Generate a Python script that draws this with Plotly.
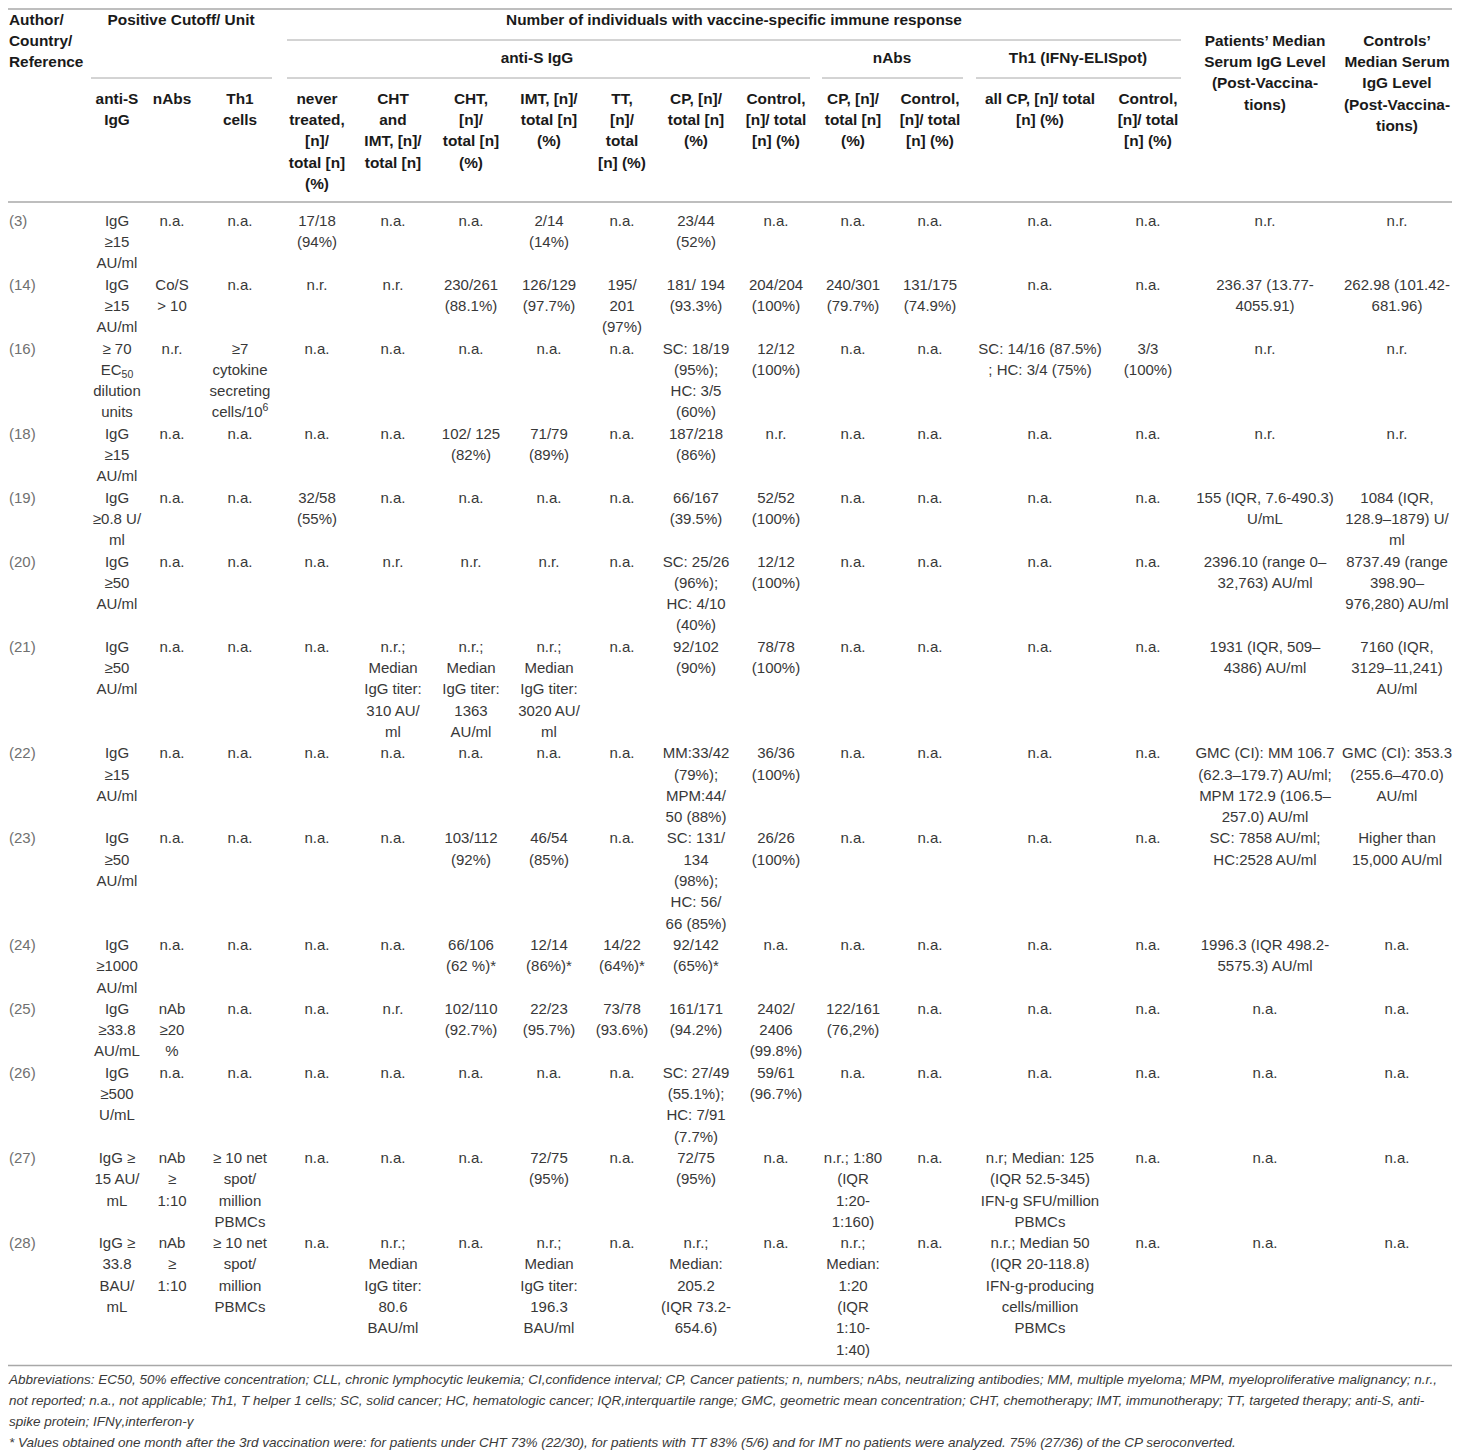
import plotly.graph_objects as go

# ---- data (one entry per study row, line breaks as in the printed table) ----
REFS = ["(3)", "(14)", "(16)", "(18)", "(19)", "(20)", "(21)", "(22)", "(23)",
        "(24)", "(25)", "(26)", "(27)", "(28)"]

CUTOFF_IGG = [
    "IgG<br>≥15<br>AU/ml", "IgG<br>≥15<br>AU/ml",
    "≥ 70<br>EC<sub>50</sub><br>dilution<br>units", "IgG<br>≥15<br>AU/ml",
    "IgG<br>≥0.8 U/<br>ml", "IgG<br>≥50<br>AU/ml", "IgG<br>≥50<br>AU/ml",
    "IgG<br>≥15<br>AU/ml", "IgG<br>≥50<br>AU/ml", "IgG<br>≥1000<br>AU/ml",
    "IgG<br>≥33.8<br>AU/mL", "IgG<br>≥500<br>U/mL", "IgG ≥<br>15 AU/<br>mL",
    "IgG ≥<br>33.8<br>BAU/<br>mL"]
CUTOFF_NABS = ["n.a.", "Co/S<br>> 10", "n.r.", "n.a.", "n.a.", "n.a.", "n.a.", "n.a.",
               "n.a.", "n.a.", "nAb<br>≥20<br>%", "n.a.", "nAb<br>≥<br>1:10", "nAb<br>≥<br>1:10"]
CUTOFF_TH1 = ["n.a.", "n.a.", "≥7<br>cytokine<br>secreting<br>cells/10<sup>6</sup>", "n.a.",
              "n.a.", "n.a.", "n.a.", "n.a.", "n.a.", "n.a.", "n.a.", "n.a.",
              "≥ 10 net<br>spot/<br>million<br>PBMCs", "≥ 10 net<br>spot/<br>million<br>PBMCs"]

NEVER_TREATED = ["17/18<br>(94%)", "n.r.", "n.a.", "n.a.", "32/58<br>(55%)", "n.a.", "n.a.",
                 "n.a.", "n.a.", "n.a.", "n.a.", "n.a.", "n.a.", "n.a."]
CHT_IMT = ["n.a.", "n.r.", "n.a.", "n.a.", "n.a.", "n.r.",
           "n.r.;<br>Median<br>IgG titer:<br>310 AU/<br>ml", "n.a.", "n.a.", "n.a.", "n.r.",
           "n.a.", "n.a.", "n.r.;<br>Median<br>IgG titer:<br>80.6<br>BAU/ml"]
CHT = ["n.a.", "230/261<br>(88.1%)", "n.a.", "102/ 125<br>(82%)", "n.a.", "n.r.",
       "n.r.;<br>Median<br>IgG titer:<br>1363<br>AU/ml", "n.a.", "103/112<br>(92%)",
       "66/106<br>(62 %)*", "102/110<br>(92.7%)", "n.a.", "n.a.", "n.a."]
IMT = ["2/14<br>(14%)", "126/129<br>(97.7%)", "n.a.", "71/79<br>(89%)", "n.a.", "n.r.",
       "n.r.;<br>Median<br>IgG titer:<br>3020 AU/<br>ml", "n.a.", "46/54<br>(85%)",
       "12/14<br>(86%)*", "22/23<br>(95.7%)", "n.a.", "72/75<br>(95%)",
       "n.r.;<br>Median<br>IgG titer:<br>196.3<br>BAU/ml"]
TT = ["n.a.", "195/<br>201<br>(97%)", "n.a.", "n.a.", "n.a.", "n.a.", "n.a.", "n.a.", "n.a.",
      "14/22<br>(64%)*", "73/78<br>(93.6%)", "n.a.", "n.a.", "n.a."]
CP = ["23/44<br>(52%)", "181/ 194<br>(93.3%)", "SC: 18/19<br>(95%);<br>HC: 3/5<br>(60%)",
      "187/218<br>(86%)", "66/167<br>(39.5%)", "SC: 25/26<br>(96%);<br>HC: 4/10<br>(40%)",
      "92/102<br>(90%)", "MM:33/42<br>(79%);<br>MPM:44/<br>50 (88%)",
      "SC: 131/<br>134<br>(98%);<br>HC: 56/<br>66 (85%)", "92/142<br>(65%)*",
      "161/171<br>(94.2%)", "SC: 27/49<br>(55.1%);<br>HC: 7/91<br>(7.7%)", "72/75<br>(95%)",
      "n.r.;<br>Median:<br>205.2<br>(IQR 73.2-<br>654.6)"]
CONTROL_IGG = ["n.a.", "204/204<br>(100%)", "12/12<br>(100%)", "n.r.", "52/52<br>(100%)",
               "12/12<br>(100%)", "78/78<br>(100%)", "36/36<br>(100%)", "26/26<br>(100%)",
               "n.a.", "2402/<br>2406<br>(99.8%)", "59/61<br>(96.7%)", "n.a.", "n.a."]
CP_NABS = ["n.a.", "240/301<br>(79.7%)", "n.a.", "n.a.", "n.a.", "n.a.", "n.a.", "n.a.",
           "n.a.", "n.a.", "122/161<br>(76,2%)", "n.a.",
           "n.r.; 1:80<br>(IQR<br>1:20-<br>1:160)",
           "n.r.;<br>Median:<br>1:20<br>(IQR<br>1:10-<br>1:40)"]
CONTROL_NABS = ["n.a.", "131/175<br>(74.9%)", "n.a.", "n.a.", "n.a.", "n.a.", "n.a.", "n.a.",
                "n.a.", "n.a.", "n.a.", "n.a.", "n.a.", "n.a."]
TH1_CP = ["n.a.", "n.a.", "SC: 14/16 (87.5%)<br>; HC: 3/4 (75%)", "n.a.", "n.a.", "n.a.",
          "n.a.", "n.a.", "n.a.", "n.a.", "n.a.", "n.a.",
          "n.r; Median: 125<br>(IQR 52.5-345)<br>IFN-g SFU/million<br>PBMCs",
          "n.r.; Median 50<br>(IQR 20-118.8)<br>IFN-g-producing<br>cells/million<br>PBMCs"]
TH1_CONTROL = ["n.a.", "n.a.", "3/3<br>(100%)", "n.a.", "n.a.", "n.a.", "n.a.", "n.a.",
               "n.a.", "n.a.", "n.a.", "n.a.", "n.a.", "n.a."]
PATIENTS_MEDIAN = [
    "n.r.", "236.37 (13.77-<br>4055.91)", "n.r.", "n.r.", "155 (IQR, 7.6-490.3)<br>U/mL",
    "2396.10 (range 0–<br>32,763) AU/ml", "1931 (IQR, 509–<br>4386) AU/ml",
    "GMC (CI): MM 106.7<br>(62.3–179.7) AU/ml;<br>MPM 172.9 (106.5–<br>257.0) AU/ml",
    "SC: 7858 AU/ml;<br>HC:2528 AU/ml", "1996.3 (IQR 498.2-<br>5575.3) AU/ml",
    "n.a.", "n.a.", "n.a.", "n.a."]
CONTROLS_MEDIAN = [
    "n.r.", "262.98 (101.42-<br>681.96)", "n.r.", "n.r.", "1084 (IQR,<br>128.9–1879) U/<br>ml",
    "8737.49 (range<br>398.90–<br>976,280) AU/ml", "7160 (IQR,<br>3129–11,241)<br>AU/ml",
    "GMC (CI): 353.3<br>(255.6–470.0)<br>AU/ml", "Higher than<br>15,000 AU/ml", "n.a.",
    "n.a.", "n.a.", "n.a.", "n.a."]

SUB_HEADERS = ["", "anti-S<br>IgG", "nAbs", "Th1<br>cells",
               "never<br>treated,<br>[n]/<br>total [n]<br>(%)",
               "CHT<br>and<br>IMT, [n]/<br>total [n]", "CHT,<br>[n]/<br>total [n]<br>(%)",
               "IMT, [n]/<br>total [n]<br>(%)", "TT,<br>[n]/<br>total<br>[n] (%)",
               "CP, [n]/<br>total [n]<br>(%)", "Control,<br>[n]/ total<br>[n] (%)",
               "CP, [n]/<br>total [n]<br>(%)", "Control,<br>[n]/ total<br>[n] (%)",
               "all CP, [n]/ total<br>[n] (%)", "Control,<br>[n]/ total<br>[n] (%)", "", ""]

FOOTNOTES = [
    "Abbreviations: EC50, 50% effective concentration; CLL, chronic lymphocytic leukemia; CI,confidence interval; "
    "CP, Cancer patients; n, numbers; nAbs, neutralizing antibodies; MM, multiple myeloma; MPM, "
    "myeloproliferative malignancy; n.r.,",
    "not reported; n.a., not applicable; Th1, T helper 1 cells; SC, solid cancer; HC, hematologic cancer; "
    "IQR,interquartile range; GMC, geometric mean concentration; CHT, chemotherapy; IMT, immunotherapy; "
    "TT, targeted therapy; anti-S, anti-",
    "spike protein; IFNγ,interferon-γ",
    "* Values obtained one month after the 3rd vaccination were: for patients under CHT 73% (22/30), for "
    "patients with TT 83% (5/6) and for IMT no patients were analyzed. 75% (27/36) of the CP seroconverted.",
]

COLUMNS = [REFS, CUTOFF_IGG, CUTOFF_NABS, CUTOFF_TH1, NEVER_TREATED, CHT_IMT, CHT, IMT, TT, CP,
           CONTROL_IGG, CP_NABS, CONTROL_NABS, TH1_CP, TH1_CONTROL, PATIENTS_MEDIAN,
           CONTROLS_MEDIAN]

# ---- layout ----
W, H = 1460, 1452
PAGE_MARGIN = 8  # the browser's default body margin around the plot div
LEFT = PAGE_MARGIN + 1  # left edge for left-aligned text (cannot go past the div)
# last column pulled in a few px so its widest lines stay inside the visible page
COL_X = [LEFT, 117, 172, 240, 317, 393, 471, 549, 622, 696, 776, 853, 930, 1040, 1148, 1265, 1397]
LINE = 21.3
BODY_TOP = 222
FONT = "Liberation Sans, Arial, Helvetica, sans-serif"
LINE_COLOR = "#a8a8a8"


class Cells:
    """Collects one text point per printed line so a single scatter draws them."""

    def __init__(self):
        self.x, self.y, self.t, self.pos = [], [], [], []

    def add(self, x, y, text, pos="middle center", pitch=LINE):
        for i, part in enumerate(text.split("<br>")):
            self.x.append(x)
            self.y.append(y + i * pitch)
            self.t.append(part)
            self.pos.append(pos)

    def trace(self, size, color, weight="normal", style="normal"):
        return go.Scatter(x=self.x, y=self.y, text=self.t, mode="text", textposition=self.pos,
                          textfont=dict(family=FONT, size=size, color=color, weight=weight,
                                        style=style),
                          hoverinfo="skip", showlegend=False, cliponaxis=False)


head = Cells()
head.add(LEFT, 21, "Author/<br>Country/<br>Reference", "middle right")
head.add(181, 21, "Positive Cutoff/ Unit")
head.add(734, 21, "Number of individuals with vaccine-specific immune response")
head.add(537, 59, "anti-S IgG")
head.add(892, 59, "nAbs")
head.add(1078, 59, "Th1 (IFNγ-ELISpot)")
head.add(COL_X[15], 42, "Patients’ Median<br>Serum IgG Level<br>(Post-Vaccina-<br>tions)")
head.add(COL_X[16], 42, "Controls’<br>Median Serum<br>IgG Level<br>(Post-Vaccina-<br>tions)")
for x, label in zip(COL_X, SUB_HEADERS):
    if label:
        head.add(x, 100, label)

refs, body = Cells(), Cells()
y = BODY_TOP
for r in range(len(REFS)):
    n_lines = max(len(col[r].split("<br>")) for col in COLUMNS)
    refs.add(COL_X[0], y, REFS[r], "middle right")
    for c in range(1, len(COLUMNS)):
        body.add(COL_X[c], y, COLUMNS[c][r])
    y += n_lines * LINE
bottom = y - LINE / 2 + 4

notes = Cells()
for i, line in enumerate(FOOTNOTES):
    notes.add(LEFT, bottom + 15 + i * 21, line, "middle right")

fig = go.Figure([head.trace(15.4, "#1a1a1a", weight="bold"), refs.trace(15, "#707070"),
                 body.trace(15, "#383838"), notes.trace(13.5, "#3a3a3a", style="italic")])

rules = [(0, W, 1, 1.6), (287, 1181, 40, 1), (91, 272, 78, 1), (287, 810, 78, 1),
         (822, 963, 78, 1), (976, 1181, 78, 1), (0, W, 202, 1.3), (0, W, bottom, 1.6)]
for x0, x1, yy, w in rules:
    fig.add_shape(type="line", x0=max(x0, PAGE_MARGIN), x1=x1, y0=max(yy, PAGE_MARGIN + 1),
                  y1=max(yy, PAGE_MARGIN + 1), xref="x", yref="y",
                  line=dict(color=LINE_COLOR, width=w))

# the plot div sits PAGE_MARGIN px into the window, so the axes start there too
fig.update_layout(
    width=W - PAGE_MARGIN, height=H - PAGE_MARGIN, margin=dict(l=0, r=0, t=0, b=0),
    paper_bgcolor="white", plot_bgcolor="white",
    xaxis=dict(range=[PAGE_MARGIN, W], visible=False, fixedrange=True),
    yaxis=dict(range=[H, PAGE_MARGIN], visible=False, fixedrange=True),
)
fig.write_html("out.html")
